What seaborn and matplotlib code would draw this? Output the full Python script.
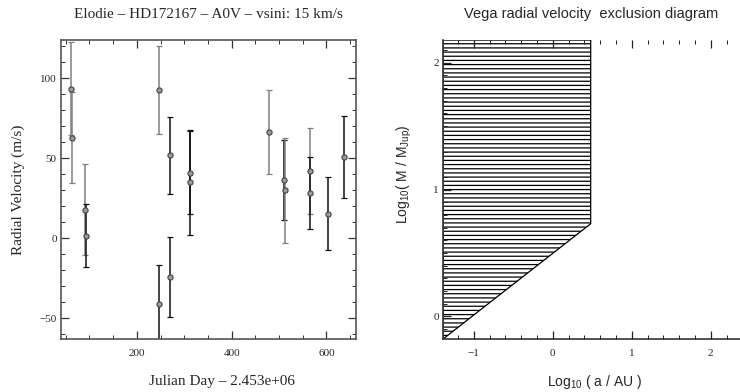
"""Elodie RV curve of Vega and the radial velocity exclusion diagram."""

import matplotlib

matplotlib.use("Agg")
import matplotlib.pyplot as plt
import pandas as pd
import seaborn as sns
from matplotlib.ticker import MultipleLocator

# left panel: radial velocities (JD - 2453000, m/s)
jd = [62, 64, 90, 92, 246, 246, 271, 271, 313, 313, 478, 511, 513, 566, 566, 604, 637]
rv = [93.5, 63, 18, 1.7, 92.5, -40.8, 52, -24, 41, 35, 66.5, 36.5, 30, 42, 28.5, 15.4, 51]
rv_err = [29, 28.5, 28.5, 19.5, 27.5, 24, 24, 25, 26, 33, 26, 25, 33, 27, 22.5, 23, 25.5]
series = ["a", "a", "a", "b", "a", "b", "b", "b", "b", "b", "a", "b", "a", "a", "b", "b", "b"]

# right panel: exclusion boundary (log a [AU], log M [M_Jup])
excl_log_a = [-1.39, 0.48]
excl_log_m = [-0.18, 0.73]
excl_top = 2.18

rv_xlim = (40, 663)
rv_ylim = (-63, 124)
excl_xlim = (-1.39, 2.37)
excl_ylim = (-0.18, 2.18)

sns.set_style("ticks")
plt.rcParams["font.family"] = ["Liberation Serif", "DejaVu Serif"]
plt.rcParams["hatch.linewidth"] = 0.9
plt.rcParams["mathtext.fontset"] = "custom"
plt.rcParams["mathtext.rm"] = "Liberation Sans"
plt.rcParams["mathtext.it"] = "Liberation Sans"

df = pd.DataFrame({"jd": jd, "rv": rv, "err": rv_err, "series": series})
bar_colors = {"a": "#808080", "b": "#111111"}

fig = plt.figure(figsize=(7.4, 3.92), dpi=100)
ax1 = fig.add_axes([0.0824, 0.135, 0.399, 0.763])
ax2 = fig.add_axes([0.5986, 0.135, 0.4014, 0.763])

# --- left: RV curve
for _, row in df.iterrows():
    ax1.errorbar(
        row["jd"], row["rv"], yerr=row["err"], fmt="none",
        ecolor=bar_colors[row["series"]], elinewidth=1.1,
        capsize=2.5, capthick=0.9,
    )
sns.scatterplot(
    data=df, x="jd", y="rv", ax=ax1, marker="o", s=14,
    color="#9a9a9a", edgecolor="#444444", linewidth=0.8, zorder=3,
    legend=False,
)
ax1.set_xlim(*rv_xlim)
ax1.set_ylim(*rv_ylim)
ax1.xaxis.set_major_locator(MultipleLocator(200))
ax1.xaxis.set_minor_locator(MultipleLocator(50))
ax1.yaxis.set_major_locator(MultipleLocator(50))
ax1.yaxis.set_minor_locator(MultipleLocator(10))
ax1.set_title("Elodie – HD172167 – A0V – vsini: 15 km/s", fontsize=11, pad=16)
ax1.set_xlabel("Julian Day – 2.453e+06", fontsize=11)
ax1.set_ylabel("Radial Velocity (m/s)", fontsize=11)
ax1.xaxis.set_label_coords(0.545, -0.12)
ax1.yaxis.set_label_coords(-0.122, 0.5)
ax1.tick_params(which="both", direction="in", top=True, right=True,
                color="#333333", labelsize=8)
ax1.tick_params(axis="x", which="both", pad=7)
ax1.tick_params(axis="y", which="both", pad=3)
ax1.tick_params(which="major", length=6, width=0.9)
ax1.tick_params(which="minor", length=3, width=0.7)
for sp in ax1.spines.values():
    sp.set_color("#555555")
    sp.set_linewidth(1.2)

# --- right: exclusion diagram
ax2.fill_between(
    excl_log_a, excl_log_m, excl_top, facecolor="white",
    edgecolor="black", hatch="----", linewidth=0.9, zorder=0,
)
ax2.set_axisbelow(False)
ax2.set_xlim(*excl_xlim)
ax2.set_ylim(*excl_ylim)
ax2.xaxis.set_major_locator(MultipleLocator(1))
ax2.xaxis.set_minor_locator(MultipleLocator(0.2))
ax2.yaxis.set_major_locator(MultipleLocator(1))
ax2.yaxis.set_minor_locator(MultipleLocator(0.1))
ax2.spines["right"].set_visible(False)
ax2.spines["top"].set_visible(False)
for sp in ("left", "bottom"):
    ax2.spines[sp].set_color("#333333")
    ax2.spines[sp].set_linewidth(1.2)
ax2.tick_params(which="both", direction="in", top=True, right=False,
                color="#222222", labelsize=8)
ax2.tick_params(axis="x", which="both", pad=7)
ax2.tick_params(axis="y", which="both", pad=3)
ax2.tick_params(which="major", length=6, width=0.9)
ax2.tick_params(which="minor", length=3, width=0.7)
sans = ["Liberation Sans", "DejaVu Sans"]
ax2.set_title("Vega radial velocity  exclusion diagram", fontsize=10.5,
              family=sans, pad=16)
ax2.set_xlabel(r"Log$_{10}$ ( a / AU )", fontsize=10, family=sans)
ax2.set_ylabel(r"Log$_{10}$( M / M$_{\rm Jup}$)", fontsize=10, family=sans)
ax2.xaxis.set_label_coords(0.51, -0.112)
ax2.yaxis.set_label_coords(-0.098, 0.55)

fig.savefig("out.png", dpi=100)
plt.close(fig)
